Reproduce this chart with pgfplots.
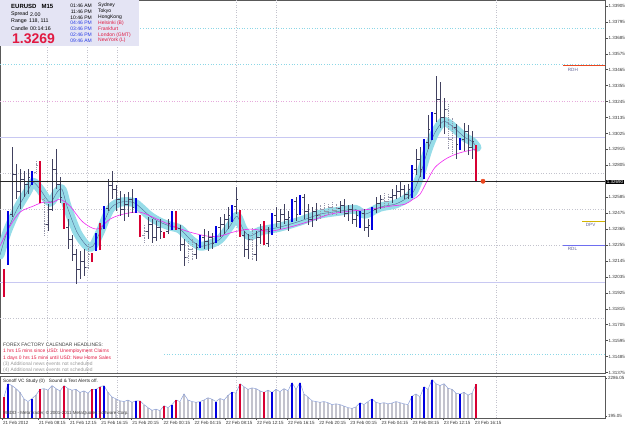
\documentclass[border=0pt]{standalone}
\usepackage{pgfplots}
\pgfplotsset{compat=1.18}
\usepackage{pgfplotstable}
\usepackage{fontspec}
\setmainfont{Liberation Sans}
\newcommand{\fs}[1]{\fontsize{#1}{#1}\selectfont}
\definecolor{barc}{RGB}{65,65,95}
\definecolor{lbar}{RGB}{150,150,170}
\definecolor{vblue}{RGB}{0,0,225}
\definecolor{vred}{RGB}{215,0,50}
\definecolor{band}{RGB}{150,220,232}
\definecolor{bandc}{RGB}{80,105,150}
\definecolor{mag}{RGB}{240,40,240}
\definecolor{boxc}{RGB}{228,228,244}
\definecolor{cyanl}{RGB}{140,215,230}
\definecolor{pinkl}{RGB}{230,170,220}
\definecolor{lavl}{RGB}{200,200,242}
\definecolor{greyl}{RGB}{195,195,205}
\definecolor{vgrey}{RGB}{195,195,205}
\definecolor{vline}{RGB}{140,160,215}
\definecolor{ffred}{RGB}{225,25,65}
\definecolor{tblue}{RGB}{40,60,230}
\definecolor{rdh}{RGB}{235,70,30}
\definecolor{dpv}{RGB}{210,180,0}
\definecolor{rdl}{RGB}{110,110,240}
\definecolor{lblc}{RGB}{100,100,150}
\pgfdeclareplotmark{ctick}{\pgfpathmoveto{\pgfqpoint{0pt}{0pt}}\pgfpathlineto{\pgfqpoint{1.6pt}{0pt}}\pgfusepathqstroke}
\pgfdeclareplotmark{otick}{\pgfpathmoveto{\pgfqpoint{0pt}{0pt}}\pgfpathlineto{\pgfqpoint{-1.6pt}{0pt}}\pgfusepathqstroke}

\pgfplotstableread{
i o h l c t v
1 1.32069 1.32090 1.31897 1.31911 2 1241
2 1.32145 1.32489 1.32117 1.32461 1 1972
3 1.32468 1.32929 1.32447 1.32743 0 1868
4 1.32743 1.32812 1.32571 1.32626 0 1701
5 1.32626 1.32777 1.32502 1.32709 0 1491
6 1.32709 1.32764 1.32585 1.32674 0 1136
7 1.32674 1.32777 1.32605 1.32722 0 990
8 1.32688 1.32764 1.32667 1.32757 1 1157
9 1.32757 1.32832 1.32743 1.32805 3 1345
10 1.32812 1.32832 1.32544 1.32571 2 1659
11 1.32571 1.32585 1.32324 1.32399 3 1701
12 1.32399 1.32537 1.32351 1.32502 0 1617
13 1.32502 1.32846 1.32489 1.32777 0 1868
14 1.32777 1.32915 1.32640 1.32674 0 1701
15 1.32674 1.32722 1.32544 1.32585 0 1575
16 1.32537 1.32544 1.32365 1.32379 2 1868
17 1.32379 1.32434 1.32227 1.32296 0 1701
18 1.32296 1.32324 1.32145 1.32193 0 1617
19 1.32193 1.32227 1.31987 1.32090 0 1659
20 1.32090 1.32214 1.32021 1.32145 0 1491
21 1.32145 1.32227 1.32042 1.32104 0 1575
22 1.32104 1.32262 1.32090 1.32193 3 1450
23 1.32193 1.32200 1.32138 1.32145 2 1659
24 1.32227 1.32337 1.32214 1.32324 1 1659
25 1.32392 1.32406 1.32220 1.32241 2 1805
26 1.32379 1.32523 1.32365 1.32509 1 1868
27 1.32509 1.32709 1.32489 1.32667 0 1491
28 1.32667 1.32764 1.32571 1.32640 0 1241
29 1.32640 1.32667 1.32489 1.32571 0 1136
30 1.32571 1.32626 1.32454 1.32502 0 1031
31 1.32502 1.32605 1.32420 1.32537 0 990
32 1.32537 1.32619 1.32447 1.32571 0 1073
33 1.32571 1.32640 1.32475 1.32516 0 948
34 1.32482 1.32578 1.32475 1.32571 1 1031
35 1.32454 1.32461 1.32310 1.32324 2 1031
36 1.32324 1.32392 1.32275 1.32351 3 822
37 1.32351 1.32447 1.32296 1.32399 0 655
38 1.32399 1.32434 1.32269 1.32310 0 509
39 1.32310 1.32420 1.32282 1.32379 0 571
40 1.32379 1.32434 1.32296 1.32351 0 488
41 1.32337 1.32344 1.32303 1.32310 2 760
42 1.32351 1.32434 1.32330 1.32406 0 655
43 1.32365 1.32489 1.32358 1.32475 1 822
44 1.32482 1.32489 1.32358 1.32372 2 1073
45 1.32372 1.32392 1.32214 1.32262 0 990
46 1.32262 1.32296 1.32110 1.32172 0 1408
47 1.32172 1.32282 1.32138 1.32227 3 1073
48 1.32227 1.32296 1.32145 1.32193 3 990
49 1.32193 1.32269 1.32159 1.32241 0 948
50 1.32241 1.32324 1.32234 1.32310 1 990
51 1.32310 1.32365 1.32227 1.32282 0 1073
52 1.32282 1.32351 1.32214 1.32310 0 1199
53 1.32310 1.32337 1.32227 1.32269 0 1115
54 1.32275 1.32386 1.32269 1.32379 1 990
55 1.32379 1.32447 1.32310 1.32399 0 1157
56 1.32399 1.32468 1.32330 1.32434 0 1073
57 1.32434 1.32516 1.32365 1.32461 0 1324
58 1.32420 1.32530 1.32413 1.32523 1 1512
59 1.32523 1.32654 1.32468 1.32571 0 1450
60 1.32489 1.32495 1.32310 1.32324 2 1972
61 1.32324 1.32351 1.32172 1.32227 0 1805
62 1.32227 1.32330 1.32159 1.32296 0 1659
63 1.32296 1.32379 1.32145 1.32193 3 1742
64 1.32193 1.32351 1.32145 1.32310 0 1701
65 1.32310 1.32399 1.32262 1.32365 0 1575
66 1.32406 1.32420 1.32255 1.32269 2 1491
67 1.32269 1.32379 1.32241 1.32351 0 1617
68 1.32337 1.32475 1.32324 1.32461 1 1491
69 1.32461 1.32516 1.32379 1.32420 0 1659
70 1.32420 1.32502 1.32365 1.32468 0 1533
71 1.32468 1.32537 1.32399 1.32434 0 1701
72 1.32434 1.32489 1.32351 1.32447 0 1575
73 1.32420 1.32571 1.32413 1.32557 1 2035
74 1.32557 1.32585 1.32420 1.32468 0 1659
75 1.32475 1.32599 1.32461 1.32585 1 2035
76 1.32585 1.32605 1.32434 1.32489 0 1408
77 1.32489 1.32537 1.32392 1.32434 0 1241
78 1.32434 1.32516 1.32379 1.32489 0 1031
79 1.32489 1.32544 1.32420 1.32461 0 990
80 1.32461 1.32537 1.32434 1.32502 3 948
81 1.32502 1.32544 1.32461 1.32489 3 990
82 1.32489 1.32537 1.32454 1.32516 3 927
83 1.32516 1.32550 1.32468 1.32495 3 822
84 1.32495 1.32544 1.32461 1.32509 3 864
85 1.32509 1.32557 1.32475 1.32530 0 822
86 1.32530 1.32571 1.32447 1.32475 0 739
87 1.32475 1.32530 1.32420 1.32502 0 655
88 1.32502 1.32537 1.32399 1.32434 0 613
89 1.32434 1.32489 1.32379 1.32461 0 697
90 1.32379 1.32489 1.32372 1.32475 1 927
91 1.32475 1.32502 1.32351 1.32379 0 822
92 1.32379 1.32434 1.32310 1.32392 0 990
93 1.32365 1.32516 1.32358 1.32502 1 1136
94 1.32502 1.32585 1.32475 1.32544 0 948
95 1.32544 1.32599 1.32502 1.32571 0 885
96 1.32571 1.32612 1.32516 1.32557 3 927
97 1.32557 1.32605 1.32530 1.32585 3 864
98 1.32585 1.32640 1.32544 1.32599 0 906
99 1.32599 1.32667 1.32571 1.32626 0 990
100 1.32626 1.32688 1.32585 1.32640 0 927
101 1.32640 1.32667 1.32571 1.32605 0 864
102 1.32605 1.32674 1.32571 1.32640 0 822
103 1.32592 1.32805 1.32578 1.32777 1 1282
104 1.32777 1.32915 1.32736 1.32846 0 1408
105 1.32846 1.32929 1.32722 1.32777 0 1241
106 1.32722 1.32984 1.32709 1.32963 1 1805
107 1.32963 1.33155 1.32915 1.33052 0 1659
108 1.32984 1.33176 1.32977 1.33162 1 2202
109 1.33162 1.33424 1.33107 1.33259 0 1972
110 1.33259 1.33382 1.33066 1.33135 0 1868
111 1.33135 1.33272 1.33018 1.33190 0 1972
112 1.33190 1.33231 1.32915 1.32984 3 1721
113 1.32984 1.33135 1.32880 1.33066 3 1659
114 1.33066 1.33087 1.32846 1.32949 0 1450
115 1.32915 1.32997 1.32908 1.32984 1 1408
116 1.32984 1.33094 1.32901 1.33039 0 1491
117 1.33039 1.33080 1.32874 1.32929 0 1345
118 1.32929 1.33039 1.32846 1.32970 0 1450
119 1.32929 1.32942 1.32690 1.32695 2 1931
}\bars

\pgfplotsset{
  hl/.style 2 args={draw=none, mark=none,
    restrict expr to domain={\thisrow{t}}{#1},
    error bars/.cd, y dir=both, y explicit, error mark=none,
    error bar style={#2}},
  vb/.style 2 args={draw=none, mark=none,
    restrict expr to domain={\thisrow{t}}{#1},
    error bars/.cd, y dir=minus, y explicit, error mark=none,
    error bar style={#2}},
}

\begin{document}
\begin{tikzpicture}
\useasboundingbox (0,0) rectangle (625pt,429pt);
% ---------------- main price panel ----------------
\begin{axis}[
  at={(0pt,56pt)}, anchor=south west, scale only axis,
  width=605pt, height=373pt,
  xmin=0, xmax=151.25, ymin=1.31372, ymax=1.33946,
  xtick=\empty,
  ytick={1.31375,1.31485,1.31595,1.31705,1.31815,1.31925,1.32035,1.32145,1.32255,1.32365,1.32475,1.32585,1.32695,1.32805,1.32915,1.33025,1.33135,1.33245,1.33355,1.33465,1.33575,1.33685,1.33795,1.33905},
  yticklabels={1.31375,1.31485,1.31595,1.31705,1.31815,1.31925,1.32035,1.32145,1.32255,1.32365,1.32475,1.32585,{},1.32805,1.32915,1.33025,1.33135,1.33245,1.33355,1.33465,1.33575,1.33685,1.33795,1.33905},
  ytick pos=right, yticklabel pos=right,
  tick align=outside, major tick length=2.5pt,
  tick style={draw=black!70, line width=0.5pt},
  yticklabel style={font=\fs{4.5}, text=black!80, inner sep=0.5pt, xshift=0.3pt},
  axis line style={draw=black!65, line width=0.6pt},
]
% vertical dotted grid
\addplot[greyl, dotted, line width=0.5pt] coordinates {(11.75,1.31372) (11.75,1.33946)};
\addplot[greyl, dotted, line width=0.5pt] coordinates {(21.75,1.31372) (21.75,1.33946)};
\addplot[greyl, dotted, line width=0.5pt] coordinates {(29.25,1.31372) (29.25,1.33946)};
\addplot[greyl, dotted, line width=0.5pt] coordinates {(59,1.31372) (59,1.33946)};
\addplot[greyl, dotted, line width=0.5pt] coordinates {(69,1.31372) (69,1.33946)};
\addplot[greyl, dotted, line width=0.5pt] coordinates {(124,1.31372) (124,1.33946)};
% quarter levels
\addplot[cyanl, dotted, line width=0.6pt] coordinates {(0,1.3375) (151.25,1.3375)};
\addplot[cyanl, dotted, line width=0.7pt] coordinates {(0,1.3350) (151.25,1.3350)};
\addplot[pinkl, dotted, line width=0.6pt] coordinates {(0,1.3325) (151.25,1.3325)};
\addplot[lavl, line width=0.6pt] coordinates {(0,1.3300) (151.25,1.3300)};
\addplot[greyl, dotted, line width=0.6pt] coordinates {(0,1.3275) (151.25,1.3275)};
\addplot[greyl, dotted, line width=0.6pt] coordinates {(0,1.3250) (151.25,1.3250)};
\addplot[greyl, dotted, line width=0.6pt] coordinates {(0,1.3225) (151.25,1.3225)};
\addplot[lavl, line width=0.6pt] coordinates {(0,1.3200) (151.25,1.3200)};
\addplot[greyl, dotted, line width=0.6pt] coordinates {(0,1.3175) (151.25,1.3175)};
\addplot[cyanl, dotted, line width=0.7pt] coordinates {(41,1.3150) (151.25,1.3150)};
% moving-average band
\addplot[band, line width=9pt, line join=round, line cap=round, smooth, tension=0.5] coordinates {
(0,1.32186) (1.75,1.32344) (4.25,1.32502) (6.75,1.32619) (8.25,1.32688) (10,1.32640) (12.5,1.32550) (14.25,1.32619) (15.5,1.32640) (16.75,1.32523) (19.25,1.32344) (21.75,1.32248) (23.25,1.32248) (25,1.32344) (27.5,1.32502) (30,1.32550) (33.25,1.32550) (35,1.32516) (37.5,1.32454) (40,1.32413) (42.5,1.32386) (45,1.32365) (47.5,1.32296) (50,1.32248) (52.5,1.32262) (55,1.32296) (57.5,1.32386) (59.25,1.32454) (60.75,1.32365) (62.5,1.32317) (65,1.32351) (70,1.32379) (75,1.32420) (80,1.32468) (85,1.32489) (88.75,1.32502) (91.25,1.32468) (95,1.32516) (98.75,1.32537) (101.25,1.32571) (103.25,1.32619) (104.5,1.32695) (105.5,1.32777) (107,1.32915) (108.75,1.33032) (110.75,1.33107) (112.5,1.33087) (114.5,1.33039) (116.25,1.32997) (118,1.32970) (119.25,1.32929)};
\addplot[bandc, line width=0.4pt, smooth, tension=0.5] coordinates {
(0,1.32186) (1.75,1.32344) (4.25,1.32502) (6.75,1.32619) (8.25,1.32688) (10,1.32640) (12.5,1.32550) (14.25,1.32619) (15.5,1.32640) (16.75,1.32523) (19.25,1.32344) (21.75,1.32248) (23.25,1.32248) (25,1.32344) (27.5,1.32502) (30,1.32550) (33.25,1.32550) (35,1.32516) (37.5,1.32454) (40,1.32413) (42.5,1.32386) (45,1.32365) (47.5,1.32296) (50,1.32248) (52.5,1.32262) (55,1.32296) (57.5,1.32386) (59.25,1.32454) (60.75,1.32365) (62.5,1.32317) (65,1.32351) (70,1.32379) (75,1.32420) (80,1.32468) (85,1.32489) (88.75,1.32502) (91.25,1.32468) (95,1.32516) (98.75,1.32537) (101.25,1.32571) (103.25,1.32619) (104.5,1.32695) (105.5,1.32777) (107,1.32915) (108.75,1.33032) (110.75,1.33107) (112.5,1.33087) (114.5,1.33039) (116.25,1.32997) (118,1.32970) (119.25,1.32929)};
% slow MA
\addplot[mag, line width=0.6pt, smooth, tension=0.5] coordinates {
(0,1.32248) (2.5,1.32386) (5,1.32482) (8.25,1.32523) (10.75,1.32550) (13.25,1.32550) (15,1.32571) (17.5,1.32523) (20.75,1.32413) (24.25,1.32365) (27.5,1.32434) (30.75,1.32468) (35,1.32482) (39.25,1.32434) (43.25,1.32386) (47.5,1.32344) (51.75,1.32317) (55,1.32317) (58.25,1.32344) (62.5,1.32365) (67.5,1.32351) (72.5,1.32379) (77.5,1.32420) (82.5,1.32468) (87.5,1.32489) (92.5,1.32502) (97.5,1.32523) (101.25,1.32537) (103.25,1.32571) (105,1.32605) (107,1.32709) (108.75,1.32791) (111.25,1.32846) (113.75,1.32880) (116.25,1.32901) (118.75,1.32915)};
% OHLC bars
\addplot[hl={-0.5:0.5}{draw=barc, line width=0.7pt, solid}] table[x=i, y=c, y error plus expr=\thisrow{h}-\thisrow{c}, y error minus expr=\thisrow{c}-\thisrow{l}] {\bars};
\addplot[only marks, mark=ctick, mark options={draw=barc, line width=0.7pt}, restrict expr to domain={\thisrow{t}}{-0.5:0.5}] table[x=i, y=c] {\bars};
\addplot[only marks, mark=otick, mark options={draw=barc, line width=0.7pt}, restrict expr to domain={\thisrow{t}}{-0.5:0.5}] table[x=i, y=o] {\bars};
\addplot[hl={2.5:3.5}{draw=lbar, line width=0.8pt, dash pattern=on 1pt off 0.8pt}] table[x=i, y=c, y error plus expr=\thisrow{h}-\thisrow{c}, y error minus expr=\thisrow{c}-\thisrow{l}] {\bars};
\addplot[only marks, mark=ctick, mark options={draw=lbar, line width=0.7pt}, restrict expr to domain={\thisrow{t}}{2.5:3.5}] table[x=i, y=c] {\bars};
\addplot[only marks, mark=otick, mark options={draw=lbar, line width=0.7pt}, restrict expr to domain={\thisrow{t}}{2.5:3.5}] table[x=i, y=o] {\bars};
\addplot[hl={0.5:1.5}{draw=vblue, line width=1.7pt, solid}] table[x=i, y=c, y error plus expr=\thisrow{h}-\thisrow{c}, y error minus expr=\thisrow{c}-\thisrow{l}] {\bars};
\addplot[hl={1.5:2.5}{draw=vred, line width=1.7pt, solid}] table[x=i, y=c, y error plus expr=\thisrow{h}-\thisrow{c}, y error minus expr=\thisrow{c}-\thisrow{l}] {\bars};
% bid line and marker
\addplot[black!85, line width=0.7pt] coordinates {(0,1.32695) (151.25,1.32695)};
\addplot[only marks, mark=*, mark size=2.2pt, mark options={fill=rdh, draw=rdh}] coordinates {(120.75,1.32695)};
% daily levels
\addplot[rdh, line width=0.8pt] coordinates {(140.75,1.33492) (151.25,1.33492)};
\addplot[dpv, line width=0.8pt] coordinates {(145.5,1.32420) (151.25,1.32420)};
\addplot[rdl, line width=0.8pt] coordinates {(140.75,1.32255) (151.25,1.32255)};
\node[anchor=north west, font=\fs{4.6}, text=lblc, inner sep=0.5pt] at (axis cs:141.8,1.33480) {RDH};
\node[anchor=north west, font=\fs{4.6}, text=lblc, inner sep=0.5pt] at (axis cs:146.3,1.32408) {DPV};
\node[anchor=north west, font=\fs{4.6}, text=lblc, inner sep=0.5pt] at (axis cs:141.8,1.32243) {RDL};
\end{axis}
% ---------------- volume sub panel ----------------
\begin{axis}[
  at={(0pt,11pt)}, anchor=south west, scale only axis,
  width=605pt, height=42pt,
  xmin=0, xmax=151.25, ymin=85, ymax=2396,
  xtick={0.5,9.5,17.29,25.07,32.86,40.64,48.43,56.21,64,71.78,79.57,87.35,95.14,102.92,110.71,118.49},
  xticklabels={21 Feb 2012,21 Feb 08:15,21 Feb 12:15,21 Feb 16:15,21 Feb 20:15,22 Feb 00:15,22 Feb 04:15,22 Feb 08:15,22 Feb 12:15,22 Feb 16:15,22 Feb 20:15,23 Feb 00:15,23 Feb 04:15,23 Feb 08:15,23 Feb 12:15,23 Feb 16:15},
  xtick pos=bottom,
  xticklabel style={anchor=north west, font=\fs{4.5}, text=black!80, inner sep=0.5pt, xshift=0.3pt, yshift=-0.3pt},
  ytick={195.05,2286.05}, yticklabels={195.05,2286.05},
  ytick pos=right, yticklabel pos=right,
  yticklabel style={font=\fs{4.5}, text=black!80, inner sep=0.5pt, xshift=0.3pt},
  tick align=outside, major tick length=2.2pt,
  tick style={draw=black!70, line width=0.5pt},
  axis line style={draw=black!65, line width=0.6pt},
]
\addplot[greyl, dotted, line width=0.5pt] coordinates {(29.25,85) (29.25,2396)};
\addplot[greyl, dotted, line width=0.5pt] coordinates {(59,85) (59,2396)};
\addplot[greyl, dotted, line width=0.5pt] coordinates {(69,85) (69,2396)};
\addplot[greyl, dotted, line width=0.5pt] coordinates {(124,85) (124,2396)};
\addplot[vb={-0.5:3.5}{draw=vgrey, line width=2pt, solid}] table[x=i, y=v, y error minus expr=\thisrow{v}] {\bars};
\addplot[vline, line width=0.5pt, mark=none] table[x=i, y=v] {\bars};
\addplot[vb={0.5:1.5}{draw=vblue, line width=1.5pt, solid}] table[x=i, y=v, y error minus expr=\thisrow{v}] {\bars};
\addplot[vb={1.5:2.5}{draw=vred, line width=1.5pt, solid}] table[x=i, y=v, y error minus expr=\thisrow{v}] {\bars};
\end{axis}
% ---------------- overlays (text panels) ----------------
\begin{scope}[x=1pt, y=-1pt, shift={(0pt,429pt)}]
\fill[boxc] (0,0) rectangle (139,46);
\node[anchor=west, font=\bfseries\fs{6}, inner sep=0pt] at (11,6) {EURUSD\hspace{5pt}M15};
\node[anchor=west, font=\fs{5.3}, inner sep=0pt] at (11,14.3) {Spread};
\node[anchor=west, font=\fs{5.3}, inner sep=0pt] at (30,14.3) {2.00};
\node[anchor=west, font=\fs{5.3}, inner sep=0pt] at (11,21.3) {Range};
\node[anchor=west, font=\fs{5.3}, inner sep=0pt] at (29,21.3) {118, 111};
\node[anchor=west, font=\fs{5.3}, inner sep=0pt] at (11,28.3) {Candle};
\node[anchor=west, font=\fs{5.3}, inner sep=0pt] at (30,28.3) {00:14:16};
\node[anchor=west, font=\bfseries\fs{14}, text=ffred, inner sep=0pt] at (12,38.6) {1.3269};
\node[anchor=east, font=\fs{5}, inner sep=0pt] at (92,5.7) {01:46 AM};
\node[anchor=east, font=\fs{5}, inner sep=0pt] at (92,11.6) {11:46 PM};
\node[anchor=east, font=\fs{5}, inner sep=0pt] at (92,17.4) {10:46 PM};
\node[anchor=east, font=\fs{5}, text=tblue, inner sep=0pt] at (92,23.2) {04:46 PM};
\node[anchor=east, font=\fs{5}, text=tblue, inner sep=0pt] at (92,29.0) {03:46 PM};
\node[anchor=east, font=\fs{5}, text=tblue, inner sep=0pt] at (92,34.8) {02:46 PM};
\node[anchor=east, font=\fs{5}, text=tblue, inner sep=0pt] at (92,40.6) {09:46 AM};
\node[anchor=west, font=\fs{5}, inner sep=0pt] at (98,5.7) {Sydney};
\node[anchor=west, font=\fs{5}, inner sep=0pt] at (98,11.6) {Tokyo};
\node[anchor=west, font=\fs{5}, inner sep=0pt] at (98,17.4) {HongKong};
\node[anchor=west, font=\fs{5}, text=ffred, inner sep=0pt] at (98,23.2) {Helsinki (B)};
\node[anchor=west, font=\fs{5}, text=ffred, inner sep=0pt] at (98,29.0) {Frankfurt};
\node[anchor=west, font=\fs{5}, text=ffred, inner sep=0pt] at (98,34.8) {London (GMT)};
\node[anchor=west, font=\fs{5}, text=ffred, inner sep=0pt] at (98,40.6) {NewYork (L)};
% forex factory headlines
\node[anchor=west, font=\fs{4.9}, text=black!75, inner sep=0pt] at (3,345) {FOREX FACTORY CALENDAR HEADLINES:};
\node[anchor=west, font=\fs{4.9}, text=ffred, inner sep=0pt] at (3,351.5) {1 hrs 15 mins since USD: Unemployment Claims};
\node[anchor=west, font=\fs{4.9}, text=ffred, inner sep=0pt] at (3,358) {1 days 0 hrs 15 mins until USD: New Home Sales};
\node[anchor=west, font=\fs{4.9}, text=black!40, inner sep=0pt] at (3,364) {(3) Additional news events not scheduled};
\node[anchor=west, font=\fs{4.9}, text=black!40, inner sep=0pt] at (3,370) {(4) Additional news events not scheduled};
% sub panel captions
\node[anchor=west, font=\fs{4.7}, text=black!85, inner sep=0pt] at (3,381) {Sonoff VC Study (0)\hspace{4pt}Sound \& Text Alerts off.};
\node[anchor=west, font=\fs{4.5}, text=black!75, inner sep=0pt] at (3,413) {MBDD - MetaTrader, © 2001-2011 MetaQuotes Software Corp.};
% current price box
\node[anchor=west, fill=black, text=white, font=\fs{4.5}, inner sep=0.7pt] at (606,182) {1.32690};
\end{scope}
\end{tikzpicture}
\end{document}
